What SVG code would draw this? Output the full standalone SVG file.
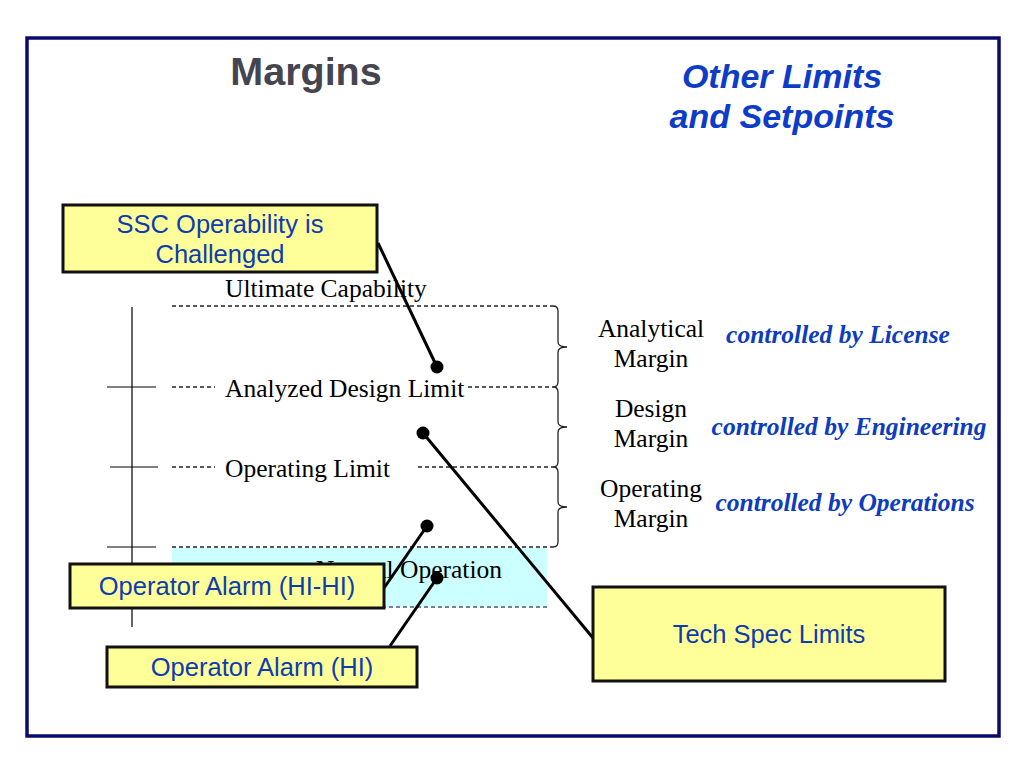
<svg xmlns="http://www.w3.org/2000/svg" width="1024" height="768" viewBox="0 0 1024 768">
<style>
.box{fill:#ffff99;stroke:#111;stroke-width:3}
.bt{font-family:"Liberation Sans",Arial,sans-serif;font-size:25.5px;fill:#0d3cae;text-anchor:middle}
.tm{font-family:"Liberation Serif","Times New Roman",serif;font-size:25.5px;fill:#000}
.ctl{font-family:"Liberation Serif","Times New Roman",serif;font-size:25.5px;font-weight:bold;font-style:italic;fill:#0d3cbe;text-anchor:middle}
.dash{stroke:#222;stroke-width:1.3;stroke-dasharray:4 3;fill:none}
.brace{stroke:#222;stroke-width:1.3;fill:none}
.axis{stroke:#000;stroke-width:1.2;fill:none}
.con{stroke:#000;stroke-width:3;fill:none}
.dot{fill:#000}
</style>
<rect x="0" y="0" width="1024" height="768" fill="#fff"/>
<rect id="frame" x="27" y="38" width="972" height="698" fill="none" stroke="#0a0a6e" stroke-width="3.5"/>
<text id="title" x="306" y="85" font-family="'Liberation Sans',Arial,sans-serif" font-size="39.5" font-weight="bold" fill="#45454f" text-anchor="middle">Margins</text>
<g id="subtitle" font-family="'Liberation Sans',Arial,sans-serif" font-size="34" font-weight="bold" font-style="italic" fill="#0d3cc8" text-anchor="middle">
<text x="782" y="88">Other Limits</text>
<text x="782" y="128">and Setpoints</text>
</g>
<g id="scale">
<rect x="172" y="548" width="375" height="59" fill="#ccffff"/>
<line class="dash" x1="172" y1="607" x2="547" y2="607" style="stroke:#556"/>
<line class="axis" x1="132" y1="307" x2="132" y2="627"/>
<line class="axis" x1="107" y1="387" x2="156" y2="387"/>
<line class="axis" x1="110" y1="467" x2="158" y2="467"/>
<line class="axis" x1="107" y1="547" x2="156" y2="547"/>
<line class="dash" x1="172" y1="306" x2="553" y2="306"/>
<line class="dash" x1="172" y1="387" x2="215" y2="387"/>
<line class="dash" x1="468" y1="387" x2="553" y2="387"/>
<line class="dash" x1="172" y1="467" x2="215" y2="467"/>
<line class="dash" x1="418" y1="467" x2="553" y2="467"/>
<line class="dash" x1="172" y1="547" x2="553" y2="547"/>
<path class="brace" d="M553 306 Q558 306 558 311 L558 342 Q558 347 567 347 Q558 347 558 352 L558 382 Q558 387 553 387 Q558 387 558 392 L558 422 Q558 427 567 427 Q558 427 558 432 L558 462 Q558 467 553 467 Q558 467 558 472 L558 502 Q558 507 567 507 Q558 507 558 512 L558 542 Q558 547 553 547"/>
<text class="tm" x="225" y="297">Ultimate Capability</text>
<text class="tm" x="225" y="397">Analyzed Design Limit</text>
<text class="tm" x="225" y="477">Operating Limit</text>
<text class="tm" x="502" y="578" text-anchor="end">Normal Operation</text>
</g>
<g id="margins" class="tm">
<text x="651" y="337" text-anchor="middle">Analytical</text>
<text x="651" y="367" text-anchor="middle">Margin</text>
<text x="651" y="417" text-anchor="middle">Design</text>
<text x="651" y="447" text-anchor="middle">Margin</text>
<text x="651" y="497" text-anchor="middle">Operating</text>
<text x="651" y="527" text-anchor="middle">Margin</text>
</g>
<g id="controls">
<text class="ctl" x="838" y="343">controlled by License</text>
<text class="ctl" x="849" y="435">controlled by Engineering</text>
<text class="ctl" x="845" y="511">controlled by Operations</text>
</g>
<g id="connectors">
<line class="con" x1="378" y1="243" x2="437" y2="367"/>
<circle class="dot" cx="437" cy="367" r="6.5"/>
<line class="con" x1="423" y1="433" x2="593" y2="638"/>
<circle class="dot" cx="423" cy="433" r="6.5"/>
<line class="con" x1="427" y1="526" x2="384" y2="588"/>
<circle class="dot" cx="427" cy="526" r="6.5"/>
<line class="con" x1="437" y1="578" x2="390" y2="646"/>
<circle class="dot" cx="437" cy="578" r="6.5"/>
</g>
<g id="ssc">
<rect class="box" x="63" y="205" width="314" height="67"/>
<text class="bt" x="220" y="233">SSC Operability is</text>
<text class="bt" x="220" y="263">Challenged</text>
</g>
<g id="alarm-hihi">
<rect class="box" x="70" y="564" width="314" height="44"/>
<text class="bt" x="227" y="595">Operator Alarm (HI-HI)</text>
</g>
<g id="alarm-hi">
<rect class="box" x="107" y="647" width="310" height="40"/>
<text class="bt" x="262" y="676">Operator Alarm (HI)</text>
</g>
<g id="techspec">
<rect class="box" x="593" y="587" width="352" height="94"/>
<text class="bt" x="769" y="643">Tech Spec Limits</text>
</g>
</svg>
